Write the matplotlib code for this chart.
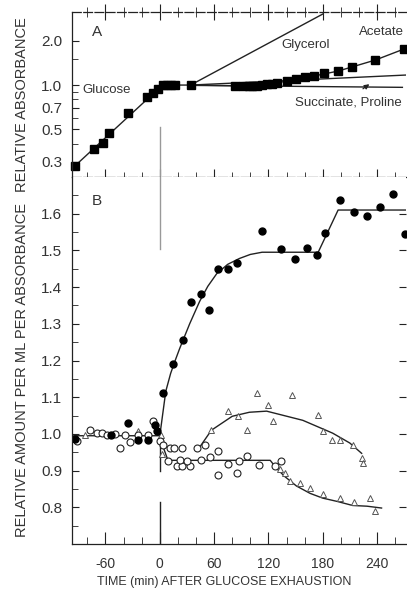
import matplotlib.pyplot as plt
from matplotlib.ticker import FixedLocator, NullFormatter

plt.rcParams['font.family'] = ['Liberation Sans', 'DejaVu Sans']

INK = '#222222'
TXT = '#333333'

# ---- panel A: relative absorbance (log axis) ----
glucose_t = [-94, -73, -63, -56, -35, -14, -8, -2, 3, 8, 12, 17, 34]
glucose_abs = [0.281, 0.367, 0.403, 0.471, 0.645, 0.829, 0.883, 0.939, 1.0, 1.0, 1.0, 1.0, 1.0]

acetate_t = [83, 92, 98, 102, 107, 113, 118, 124, 129, 140, 151, 160, 170, 181, 197, 212, 238, 270]
acetate_abs = [0.99, 0.99, 0.99, 0.99, 0.99, 1.0, 1.011, 1.016, 1.032, 1.065, 1.099, 1.134, 1.151,
               1.207, 1.245, 1.326, 1.479, 1.757]

glucose_fit_t = [-94, 3, 34]
glucose_fit = [0.281, 1.0, 1.0]
glycerol_fit_t = [34, 180]
glycerol_fit = [1.0, 3.04]
acetate_fit_t = [34, 83, 113, 129, 151, 170, 197, 212, 238, 272]
acetate_fit = [1.0, 0.99, 1.0, 1.032, 1.099, 1.151, 1.245, 1.326, 1.479, 1.78]
proline_fit_t = [34, 272]
proline_fit = [1.0, 1.17]
succinate_fit_t = [34, 268]
succinate_fit = [0.995, 0.965]

# ---- panel B: relative amount per ml per absorbance ----
filled_t = [-94, -54, -35, -24, -13, -5.5, -3, 3.3, 15, 26, 35, 45, 54, 64, 75, 85,
            113, 134, 149, 163, 174, 183, 199, 214, 229, 243, 258, 271]
filled_v = [0.986, 0.996, 1.029, 0.983, 0.983, 1.024, 1.007, 1.111, 1.19, 1.255, 1.359, 1.381,
            1.337, 1.449, 1.449, 1.465, 1.552, 1.503, 1.476, 1.506, 1.487, 1.547, 1.637, 1.604,
            1.593, 1.617, 1.655, 1.544]

open_t = [-92, -77, -69, -64, -58, -50, -44, -38, -33, -24, -13, -7, 0, 3, 11, 16, 25, 41, 50,
          9, 19, 25, 33, 22, 30, 46, 55, 64, 75, 88, 96, 64, 85, 110, 127, 134]
open_v = [0.980, 1.010, 1.002, 1.002, 0.996, 0.999, 0.961, 0.996, 0.977, 0.996, 0.996, 1.035,
          0.980, 0.969, 0.961, 0.961, 0.961, 0.961, 0.969, 0.926, 0.912, 0.912, 0.912, 0.928,
          0.926, 0.928, 0.937, 0.953, 0.917, 0.926, 0.939, 0.888, 0.893, 0.915, 0.912, 0.926]

tri_t = [-83, -24, 1, 2, 57, 75, 86, 96, 107, 119, 125, 146, 175, 180, 190, 199, 213, 223, 224,
         133, 138, 144, 155, 166, 180, 199, 215, 232, 238]
tri_v = [0.996, 1.007, 0.996, 0.945, 1.01, 1.062, 1.048, 1.01, 1.111, 1.078, 1.035, 1.105, 1.051,
         1.007, 0.983, 0.983, 0.969, 0.934, 0.92,
         0.904, 0.893, 0.871, 0.866, 0.852, 0.836, 0.825, 0.814, 0.825, 0.789]

filled_fit_t = [-95, 0, 6.6, 12, 17, 22, 33, 44, 53, 63, 75, 88, 100, 113, 175, 197, 272]
filled_fit = [0.995, 0.995, 1.116, 1.165, 1.2, 1.233, 1.30, 1.361, 1.402, 1.437, 1.462, 1.478,
              1.489, 1.495, 1.495, 1.61, 1.61]
rise_fit_t = [41, 57, 80, 99, 118, 158, 191, 210, 223]
rise_fit = [0.953, 1.01, 1.048, 1.059, 1.062, 1.037, 1.002, 0.975, 0.947]
drop_fit_t = [0, 9, 122, 129, 138, 151, 166, 180, 196, 213, 229, 245]
drop_fit = [0.99, 0.928, 0.928, 0.906, 0.884, 0.858, 0.838, 0.825, 0.816, 0.805, 0.803, 0.798]

x_major = [-60, 0, 60, 120, 180, 240]
x_labels = ['-60', '0', '60', '120', '180', '240']
x_minor = list(range(-80, 271, 20))
a_major = [0.3, 0.5, 0.7, 1.0, 2.0]
a_minor = [0.4, 0.6, 0.8, 0.9, 1.5]
b_major = [0.8, 0.9, 1.0, 1.1, 1.2, 1.3, 1.4, 1.5, 1.6]
b_minor = [0.75, 0.85, 0.95, 1.05, 1.15, 1.25, 1.35, 1.45, 1.55, 1.65]

W, H = 407, 592
fig = plt.figure(figsize=(W / 100, H / 100), dpi=100)
left, right = 72 / W, 406 / W
ax_a = fig.add_axes([left, 1 - 177 / H, right - left, (177 - 12) / H])
ax_b = fig.add_axes([left, 1 - 544 / H, right - left, (544 - 177) / H])

for ax in (ax_a, ax_b):
    ax.set_xlim(-97, 272)
    ax.spines['right'].set_visible(False)
    for s in ax.spines.values():
        s.set_color(INK)
        s.set_linewidth(0.9)
    ax.xaxis.set_major_locator(FixedLocator(x_major))
    ax.xaxis.set_minor_locator(FixedLocator(x_minor))

# panel A
ax_a.set_yscale('log')
ax_a.set_ylim(0.237, 3.14)
ax_a.yaxis.set_major_locator(FixedLocator(a_major))
ax_a.yaxis.set_minor_locator(FixedLocator(a_minor))
ax_a.set_yticklabels(['0.3', '0.5', '0.7', '1.0', '2.0'])
ax_a.yaxis.set_minor_formatter(NullFormatter())
ax_a.xaxis.set_major_formatter(NullFormatter())
ax_a.spines['top'].set_linestyle((0, (7, 2)))
ax_a.spines['bottom'].set_linestyle((0, (7, 2)))
ax_a.tick_params(axis='y', which='both', direction='in', left=True, right=False,
                 labelsize=11, labelcolor=TXT, color=INK, pad=7)
ax_a.tick_params(axis='y', which='major', length=5)
ax_a.tick_params(axis='y', which='minor', length=4)
ax_a.tick_params(axis='x', which='both', direction='inout', top=True, bottom=True,
                 labelbottom=False, color=INK)
ax_a.tick_params(axis='x', which='major', length=12)
ax_a.tick_params(axis='x', which='minor', length=7)

ax_a.plot([0, 0], [0.237, 0.52], color='#999999', lw=1)
ax_a.plot(glucose_fit_t, glucose_fit, color=INK, lw=1)
ax_a.plot(glycerol_fit_t, glycerol_fit, color=INK, lw=1)
ax_a.plot(acetate_fit_t, acetate_fit, color=INK, lw=1)
ax_a.plot(proline_fit_t, proline_fit, color=INK, lw=1)
ax_a.plot(succinate_fit_t, succinate_fit, color=INK, lw=1)
ax_a.plot(glucose_t, glucose_abs, 's', color='black', ms=5.5, clip_on=False)
ax_a.plot(acetate_t, acetate_abs, 's', color='black', ms=5.5, clip_on=False)

ax_a.text(-75, 2.31, 'A', fontsize=11, color=TXT, va='center')
ax_a.text(-86, 0.92, 'Glucose', fontsize=9.5, color=TXT, va='center')
ax_a.text(134, 1.88, 'Glycerol', fontsize=9.5, color=TXT, va='center')
ax_a.text(220, 2.31, 'Acetate', fontsize=9.5, color=TXT, va='center')
ax_a.text(149, 0.765, 'Succinate, Proline', fontsize=9.5, color=TXT, va='center')
ax_a.annotate('', xy=(234, 1.04), xytext=(222, 0.92),
              arrowprops=dict(arrowstyle='-|>', color=INK, lw=0.9, mutation_scale=7))

# panel B
ax_b.set_ylim(0.70, 1.70)
ax_b.spines['top'].set_visible(False)
ax_b.yaxis.set_major_locator(FixedLocator(b_major))
ax_b.yaxis.set_minor_locator(FixedLocator(b_minor))
ax_b.yaxis.set_minor_formatter(NullFormatter())
ax_b.set_xticklabels(x_labels)
ax_b.tick_params(axis='y', which='both', direction='in', left=True, right=True,
                 labelsize=11, labelcolor=TXT, color=INK, pad=7)
ax_b.tick_params(axis='y', which='major', length=5)
ax_b.tick_params(axis='y', which='minor', length=4, right=False)
ax_b.tick_params(axis='x', which='both', direction='in', top=False, bottom=True,
                 labelsize=10, labelcolor=TXT, color=INK, pad=9)
ax_b.tick_params(axis='x', which='major', length=9)
ax_b.tick_params(axis='x', which='minor', length=5)

ax_b.plot([0, 0], [1.505, 1.70], color='#999999', lw=1)
ax_b.plot([0, 0], [0.90, 0.97], color=INK, lw=1)
ax_b.plot([0, 0], [0.70, 0.815], color=INK, lw=1)
ax_b.plot(filled_fit_t, filled_fit, color=INK, lw=1)
ax_b.plot(rise_fit_t, rise_fit, color=INK, lw=1)
ax_b.plot(drop_fit_t, drop_fit, color=INK, lw=1)
ax_b.plot(tri_t, tri_v, '^', mfc='white', mec='#555555', mew=0.7, ms=4.5)
ax_b.plot(open_t, open_v, 'o', mfc='white', mec=INK, mew=0.8, ms=5)
ax_b.plot(filled_t, filled_v, 'o', color='black', ms=5)

ax_b.text(-75, 1.634, 'B', fontsize=11, color=TXT, va='center')

fig.text(22 / W, 1 - 105 / H, 'RELATIVE ABSORBANCE', rotation=90, fontsize=10.5,
         color=TXT, ha='center', va='center')
fig.text(22 / W, 1 - 370 / H, 'RELATIVE AMOUNT PER ML PER ABSORBANCE', rotation=90,
         fontsize=10.5, color=TXT, ha='center', va='center')
fig.text(224 / W, 1 - 582 / H, 'TIME (min) AFTER GLUCOSE EXHAUSTION', fontsize=9,
         color=TXT, ha='center', va='center')

fig.savefig('out.png', dpi=100, facecolor='white')
